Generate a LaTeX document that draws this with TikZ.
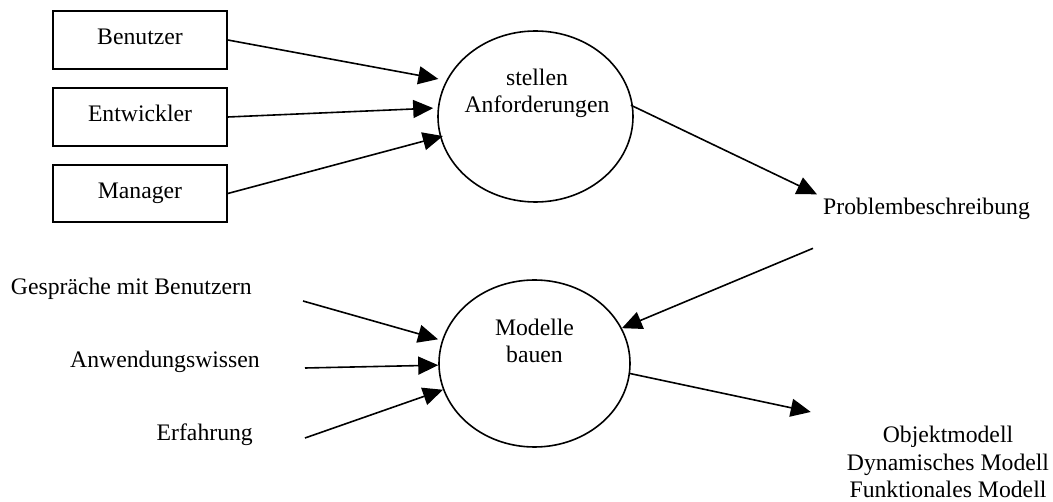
\documentclass[tikz,border=0pt]{standalone}
\usepackage{fontspec}
\setmainfont{Liberation Serif}
\usetikzlibrary{arrows.meta,shapes.geometric}

\tikzset{
  txt/.style={font=\fontsize{23.7pt}{27.5pt}\selectfont, inner sep=0pt},
  actor/.style={txt, draw, line width=1.6pt, minimum width=174pt, minimum height=58pt,
                text height=16pt, text depth=6pt},
  process/.style={draw, ellipse, line width=1.6pt, inner sep=0pt},
  flow/.style={line width=1.6pt, -{Triangle[length=20pt,width=18pt]}},
}

\begin{document}
\begin{tikzpicture}[x=1pt,y=-1pt]
  \useasboundingbox (0,0) rectangle (1053,502);

  % who states the requirements
  \node[actor] (ben) at (140,40) {Benutzer};
  \node[actor] (ent) at (140,117) {Entwickler};
  \node[actor, minimum height=57pt] (man) at (140,193.5) {Manager};

  % first process
  \node[process, minimum width=195pt, minimum height=171pt] (req) at (535.5,116.5) {};
  \node[txt, align=center] (reqtxt) at (537,93.5) {stellen\\Anforderungen};

  \node[txt, anchor=base west] (prob) at (823,215) {Problembeschreibung};

  % inputs to modelling
  \node[txt, anchor=base east] (talk) at (252,295) {Gespräche mit Benutzern};
  \node[txt, anchor=base east] (know) at (260,368) {Anwendungswissen};
  \node[txt, anchor=base east] (exp) at (253,441) {Erfahrung};

  % second process
  \node[process, minimum width=191pt, minimum height=167pt] (mod) at (534.5,363.5) {};
  \node[txt, align=center] (modtxt) at (534.5,341) {Modelle\\bauen};

  \node[txt, align=center] (out) at (948,462) {Objektmodell\\Dynamisches Modell\\Funktionales Modell};

  % flows
  \draw[flow, shorten >=8pt] (ben.east) -- (req.158);
  \draw[flow, shorten >=4.5pt] (ent.east) -- (req.175);
  \draw[flow, shorten >=-3pt] (man.east) -- (req.192);
  \draw[flow, shorten <=-2.5pt] (req.6) -- ([xshift=-6pt,yshift=4pt]prob.north west);
  \draw[flow] ([xshift=-10pt,yshift=-28pt]prob.south west) -- (mod.22);
  \draw[flow, shorten >=4pt] ([xshift=51pt,yshift=-6pt]talk.base east) -- (mod.166);
  \draw[flow] ([xshift=45pt]know.base east) -- (mod.181);
  \draw[flow] ([xshift=52pt,yshift=3pt]exp.base east) -- (mod.196);
  \draw[flow] (mod.354) -- ([xshift=-36pt,yshift=14pt]out.north west);
\end{tikzpicture}
\end{document}
